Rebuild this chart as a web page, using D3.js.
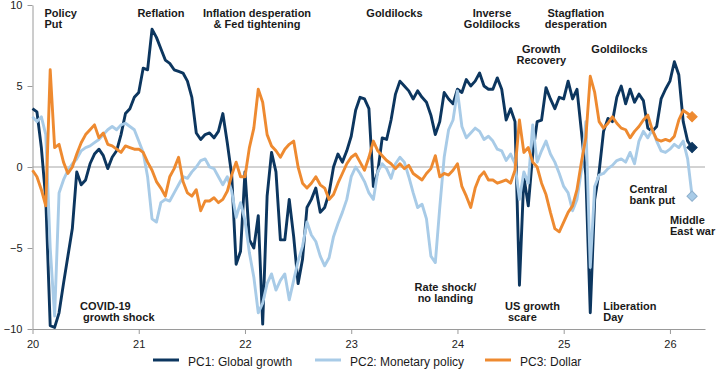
<!DOCTYPE html>
<html>
<head>
<meta charset="utf-8">
<script src="https://cdn.jsdelivr.net/npm/d3@7"></script>
<style>
  body { margin: 0; background: #fff; }
  .chart text { font-family: "Liberation Sans", Arial, sans-serif; fill: #1a1a1a; }
  .tick text { font-size: 11px; fill: #222; }
  .note { font-size: 11px; font-weight: bold; white-space: pre; }
  .legend text { font-size: 12px; }
</style>
</head>
<body>
<div class="chart"></div>
<script>
// Data: semi-monthly readings from Jan 2020 (year "20")
const startYear = 20
const stepYear = 1 / 24

const pc1Values = [
  3.6, 3.4, 1.2, -2.0, -9.8, -9.9, -9.0, -7.2, -5.5, -3.8,
  -0.3, -1.1, -0.8, 0.2, 0.8, 1.1, 0.7, -0.1, 0.6, 1.0,
  2.0, 3.3, 3.6, 4.3, 4.6, 6.1, 6.0, 8.5, 8.0, 7.3,
  6.6, 6.4, 6.0, 5.9, 5.8, 5.3, 4.3, 2.1, 1.7, 2.0,
  2.1, 1.8, 2.2, 3.3, 1.5, -0.5, -6.0, -5.2, -0.3, -4.5,
  -5.0, -3.0, -9.7, -1.8, 0.9, -0.3, -4.5, -4.5, -2.0, -4.3,
  -7.2, -5.7, -2.5, -2.0, -1.3, -2.8, -2.5, -1.6, 0.0, 0.8,
  0.3, 1.0, 1.9, 3.5, 4.3, 4.2, 3.6, -1.2, -0.3, 1.8,
  1.7, 2.9, 4.5, 5.3, 5.0, 4.7, 4.2, 4.7, 4.3, 4.0,
  3.2, 2.0, 2.8, 4.6, 4.2, 3.9, 4.8, 4.6, 5.4, 5.0,
  5.3, 5.8, 5.0, 4.8, 4.8, 5.5, 4.8, 2.9, 3.6, 2.8,
  -7.3, -0.6, -2.4, 0.8, 2.8, 2.9, 4.9, 4.2, 3.6, 4.3,
  4.2, 5.3, 4.2, 4.8, 2.2, -0.5, -9.0, -2.0, -0.3, 2.2,
  3.0, 2.8, 4.3, 5.0, 3.9, 4.8, 4.0, 4.5, 4.1, 2.4,
  2.2, 2.5, 4.2, 4.8, 5.3, 6.5, 5.7, 2.8, 1.6, 1.2
]

const pc2Values = [
  3.1, 2.8, 3.1, 2.0, -5.0, -9.2, -1.6, -0.8, -0.2, 0.2,
  0.5, 1.0, 1.2, 1.3, 1.5, 1.7, 2.0, 2.3, 2.5, 2.3,
  2.6, 2.7, 2.5, 2.3, 1.6, 0.9, -0.6, -3.2, -3.4, -2.2,
  -2.0, -2.1, -1.6, -1.1, -0.6, -0.7, -0.3, 0.0, 0.4, 0.5,
  0.0, -0.1, -0.6, -1.1, -0.6, -1.5, -3.1, -2.2, -3.3, -5.3,
  -6.8, -9.0, -8.4, -7.2, -6.6, -7.6, -7.0, -6.6, -8.2, -7.0,
  -5.8, -4.9, -3.4, -4.2, -4.6, -5.5, -6.1, -5.6, -4.3, -3.5,
  -2.8, -2.0, -0.6, 0.0, -0.4, -0.9, -1.6, -2.0, -0.3, 0.2,
  -0.1, -0.7, 0.2, 0.6, 0.3, -0.6, -1.6, -2.5, -2.3, -3.2,
  -5.5, -5.9, -2.5, 0.6, 2.3, 2.9, 4.7, 2.5, 1.8, 2.1,
  2.4, 2.2, 1.7, 1.9, 1.6, 1.1, 1.0, 0.4, 0.8, 0.2,
  -2.0, -0.3, -1.0, 2.6, 0.3, 1.0, 1.6, 0.8, 0.3, -0.4,
  -1.2, -1.6, -2.7, -2.0, -0.2, 2.8, -6.2, -1.2, -0.5, -0.4,
  -0.1, 0.1, 0.4, 0.5, 0.3, 0.9, 0.2, 1.6, 2.2, 1.8,
  2.3, 1.6, 1.0, 0.9, 1.1, 1.4, 1.2, 1.6, 0.5, -1.8
]

const pc3Values = [
  -0.2, -0.6, -1.4, -2.4, 6.0, 1.2, 1.4, 0.3, -0.4, 0.0,
  0.8, 1.5, 2.0, 2.3, 2.6, 1.8, 2.1, 1.4, 1.3, 1.1,
  0.9, 1.3, 1.2, 1.1, 1.1, 0.9, 0.3, -0.2, -0.9, -1.3,
  -1.8, -0.6, -0.1, 0.6, -0.9, -1.6, -1.8, -1.4, -2.7, -2.1,
  -2.1, -1.9, -2.2, -2.0, -1.5, -0.5, 0.3, -0.6, -0.6, 1.2,
  2.4, 4.8, 4.0, 2.0, 1.3, 1.0, 0.6, 1.1, 1.4, 1.6,
  0.0, -1.0, -1.3, -1.0, -0.6, -1.1, -1.3, -2.0, -1.7, -1.0,
  -0.4, 0.2, 0.6, 0.8, 0.3, -0.2, 0.6, 1.6, 1.0, 0.7,
  0.4, 0.2, -0.1, 0.2, -0.1, 0.1, -0.4, -0.6, -0.8, -0.4,
  -0.1, 0.7, -0.6, -0.4, -0.5, -0.2, 0.2, -1.2, -1.8, -2.5,
  -1.3, -0.6, -0.3, -0.8, -0.8, -1.0, -0.9, -0.8, -1.0, -0.2,
  2.9, 0.9, 1.2, 0.3, 0.0, -1.0, -1.7, -2.8, -3.8, -4.0,
  -3.4, -2.8, -2.4, -1.4, 0.3, 1.8, 5.6, 4.6, 2.8, 2.4,
  2.7, 3.1, 2.7, 2.4, 2.3, 1.8, 2.2, 2.5, 2.9, 3.2,
  2.3, 1.7, 1.6, 1.7, 1.6, 1.9, 2.9, 3.5, 3.3, 3.1
]

const seriesNames = ['PC1: Global growth', 'PC2: Monetary policy', 'PC3: Dollar']
const seriesColors = ['#0c365f', '#a8cbe7', '#ee8a30']
const xTicks = [20, 21, 22, 23, 24, 25, 26]
const yTicks = [-10, -5, 0, 5, 10]

// annotations anchored in data space (year, value of first baseline)
const notes = [
  { lines: ['Policy', 'Put'], year: 20.113, value: 9.24, anchor: 'start' },
  { lines: ['Reflation'], year: 21.209, value: 9.24, anchor: 'middle' },
  { lines: ['Inflation desperation', '& Fed tightening'], year: 22.113, value: 9.24, anchor: 'middle' },
  { lines: ['Goldilocks'], year: 23.407, value: 9.24, anchor: 'middle' },
  { lines: ['Inverse', 'Goldilocks'], year: 24.325, value: 9.24, anchor: 'middle' },
  { lines: ['Stagflation', 'desperation'], year: 25.115, value: 9.24, anchor: 'middle' },
  { lines: ['Growth', 'Recovery'], year: 24.789, value: 7.06, anchor: 'middle' },
  { lines: ['Goldilocks'], year: 25.525, value: 7.06, anchor: 'middle' },
  { lines: ['COVID-19', ' growth shock'], year: 20.447, value: -8.83, anchor: 'start' },
  { lines: ['Rate shock/', 'no landing'], year: 23.887, value: -7.64, anchor: 'middle' },
  { lines: ['US growth', ' scare'], year: 24.447, value: -8.83, anchor: 'start' },
  { lines: ['Liberation', 'Day'], year: 25.372, value: -8.83, anchor: 'start' },
  { lines: ['Central', 'bank put'], year: 25.619, value: -1.59, anchor: 'start' },
  { lines: ['Middle', 'East war'], year: 26.0, value: -3.54, anchor: 'start' }
]

function draw() {
  const dimensions = {
    width: 718,
    height: 374,
    xStart: 32.5,
    xEnd: 705,
    yTop: 5,
    yBottom: 329
  }

  const series = [pc1Values, pc2Values, pc3Values].map((vals, k) => ({
    name: seriesNames[k],
    color: seriesColors[k],
    points: vals.map((v, i) => ({ year: startYear + i * stepYear, value: v }))
  }))

  const _xScale = d3.scaleLinear()
    .domain([20, 26.33])
    .range([dimensions.xStart, dimensions.xEnd])

  const _yScale = d3.scaleLinear()
    .domain([-10, 10])
    .range([dimensions.yBottom, dimensions.yTop])

  const lineGen = d3.line()
    .x(d => _xScale(d.year))
    .y(d => _yScale(d.value))

  const _cont = d3.select('.chart')
    .append('svg')
    .attr('width', dimensions.width)
    .attr('height', dimensions.height)

  // zero line
  _cont.append('line')
    .attr('x1', dimensions.xStart)
    .attr('x2', dimensions.xEnd)
    .attr('y1', _yScale(0))
    .attr('y2', _yScale(0))
    .attr('stroke', '#a6a6a6')
    .attr('stroke-width', 1)

  // axes
  const xAxisGroup = _cont.append('g')
    .attr('transform', `translate(0,${dimensions.yBottom})`)
    .call(d3.axisBottom(_xScale).tickValues(xTicks).tickSize(5).tickSizeOuter(0).tickPadding(6).tickFormat(d3.format('d')))
  const yAxisGroup = _cont.append('g')
    .attr('transform', `translate(${dimensions.xStart},0)`)
    .call(d3.axisLeft(_yScale).tickValues(yTicks).tickSize(5).tickSizeOuter(0).tickPadding(5))

  ;[xAxisGroup, yAxisGroup].forEach(g => {
    g.selectAll('path, line').attr('stroke', '#9a9a9a')
    g.selectAll('text').attr('font-family', null).attr('font-size', null)
  })

  // series lines
  const _lineGroup = _cont.append('g')
  _lineGroup.selectAll('path')
    .data(series)
    .join('path')
    .attr('d', d => lineGen(d.points))
    .attr('fill', 'none')
    .attr('stroke', d => d.color)
    .attr('stroke-width', 2.9)
    .attr('stroke-linejoin', 'round')

  // end markers: squares turned 45 degrees
  const marker = d3.symbol().type(d3.symbolSquare).size(52)
  _cont.append('g')
    .selectAll('path')
    .data(series)
    .join('path')
    .attr('d', marker)
    .attr('transform', d => {
      const last = d.points[d.points.length - 1]
      return `translate(${_xScale(last.year)},${_yScale(last.value)}) rotate(45)`
    })
    .attr('fill', d => d.color)
    .attr('stroke', (d, k) => k === 1 ? '#8eb0cd' : d.color)
    .attr('stroke-width', 1)

  // annotations
  const noteGroup = _cont.append('g')
  notes.forEach(n => {
    const t = noteGroup.append('text')
      .classed('note', true)
      .attr('text-anchor', n.anchor)
      .attr('x', _xScale(n.year))
      .attr('y', _yScale(n.value))
    n.lines.forEach((line, i) => {
      t.append('tspan')
        .attr('x', _xScale(n.year))
        .attr('dy', i === 0 ? 0 : 11)
        .text(line)
    })
  })

  // legend
  const legendX = [153, 315, 485]
  const legend = _cont.append('g').classed('legend', true)
  series.forEach((s, k) => {
    legend.append('line')
      .attr('x1', legendX[k]).attr('x2', legendX[k] + 26)
      .attr('y1', 360).attr('y2', 360)
      .attr('stroke', s.color)
      .attr('stroke-width', 3)
    legend.append('text')
      .attr('x', legendX[k] + 35)
      .attr('y', 366)
      .text(s.name)
  })
}

draw()
</script>
</body>
</html>
